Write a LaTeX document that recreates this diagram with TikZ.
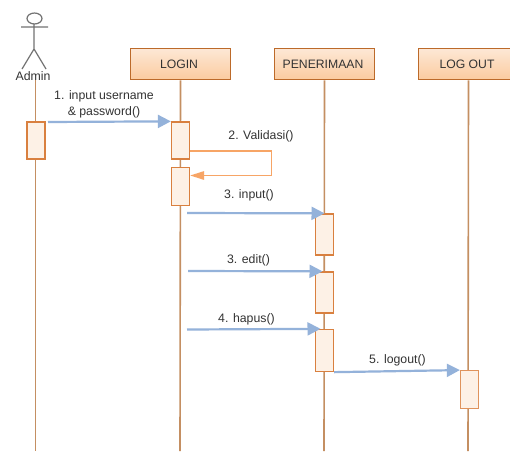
\documentclass[tikz,border=0pt]{standalone}
\usepackage{fontspec}
\setmainfont{Liberation Sans}
\usetikzlibrary{arrows.meta}
\definecolor{boxline}{HTML}{BC6A2A}
\definecolor{boxtop}{HTML}{FDE8D6}
\definecolor{boxbot}{HTML}{FBCB9F}
\definecolor{lifec}{HTML}{C48F62}
\definecolor{actline}{HTML}{D9803F}
\definecolor{actfill}{HTML}{FDF1E6}
\definecolor{msgc}{HTML}{94B2DA}
\definecolor{selfc}{HTML}{F7A566}
\definecolor{txt}{HTML}{333333}
\tikzset{
  objbox/.style={draw=boxline,line width=1.4pt,top color=boxtop,bottom color=boxbot,minimum width=99.5pt,minimum height=31.5pt,inner sep=0pt,text=txt,font=\fontsize{12.2}{14}\selectfont},
  lifeline/.style={draw=lifec,line width=1.6pt},
  actbox/.style={draw=actline,line width=1.3pt,fill=actfill,minimum width=18pt,inner sep=0pt},
  msg/.style={draw=msgc,line width=2.2pt,-{Triangle[length=13pt,width=13pt]}},
  selfmsg/.style={draw=selfc,line width=1.4pt,-{Triangle[length=14pt,width=8.5pt]}},
  lbl/.style={text=txt,inner sep=0pt,align=center,font=\fontsize{12.3}{16.5}\selectfont},
  actorline/.style={draw=black!55,line width=1.2pt}
}
\begin{document}
\begin{tikzpicture}[x=1pt,y=-1pt]
\useasboundingbox (0,0) rectangle (510,452);
\clip (0,0) rectangle (510,452);
\fill[white] (0,0) rectangle (510,452);
% actor
\draw[actorline,fill=white] (34.5,18.5) ellipse (7.5pt and 5.5pt);
\draw[actorline] (34,24) -- (34,49) (21,27) -- (48,27) (34,49) -- (22,69) (34,49) -- (46,69);
% lifeline ends
\coordinate (adminend) at (35.5,451);
\coordinate (loginend) at (180,451);
\coordinate (penend) at (324,451);
\coordinate (logoutend) at (468,451);
\coordinate (admintop) at (35.5,80);
\draw[lifeline] (admintop) -- (adminend);
% objects
\node[lbl,font=\fontsize{12.3}{14}\selectfont] (admin) at (33,76) {Admin};
\node[objbox] (login) at (180.5,64) {\hspace*{-3pt}LOGIN};
\node[objbox] (pen) at (324.5,64) {\hspace*{-3pt}PENERIMAAN};
\node[objbox] (logout) at (468.5,64) {\hspace*{-3pt}LOG OUT};
\draw[lifeline] (login.south) -- (loginend);
\draw[lifeline] (pen.south) -- (penend);
\draw[lifeline] (logout.south) -- (logoutend);
% activations
\node[actbox,minimum height=37pt] (a0) at (36,140.5) {};
\node[actbox,minimum height=37pt] (l1) at (180.5,140.5) {};
\node[actbox,minimum height=38.5pt] (l2) at (180.5,186.5) {};
\node[actbox,minimum height=41pt] (p1) at (324.5,234.5) {};
\node[actbox,minimum height=41pt] (p2) at (324.5,292.5) {};
\node[actbox,minimum height=42pt] (p3) at (324.5,350.5) {};
\node[actbox,minimum height=37.5pt,draw=actline!85] (q1) at (469.5,389.5) {};
% free ends
\coordinate (s1) at (48,122);
\coordinate (s3) at (187,213);
\coordinate (s4) at (188,271);
\coordinate (s5) at (187,329.5);
\coordinate (loopa) at (271.5,151);
\coordinate (loopb) at (271.5,175.5);
% messages
\draw[msg] (s1) -- (l1.north west);
\draw[selfmsg] (l1.east |- loopa) -- (loopa) -- (loopb) -- (l2.east |- loopb);
\draw[msg] (s3) -- (p1.north);
\draw[msg] (s4) -- ([xshift=-2]p2.north);
\draw[msg] (s5) -- ([xshift=-4]p3.north);
\draw[msg] (p3.south east) -- (q1.north west);
% labels
\node[lbl] at (104,104.5) {1. input username\\\& password()};
\node[lbl] at (261,136) {2. Validasi()};
\node[lbl] at (249,195.5) {3. input()};
\node[lbl] at (248.5,260.5) {3. edit()};
\node[lbl] at (246.5,319) {4. hapus()};
\node[lbl] at (397.5,360) {5. logout()};
\end{tikzpicture}
\end{document}
